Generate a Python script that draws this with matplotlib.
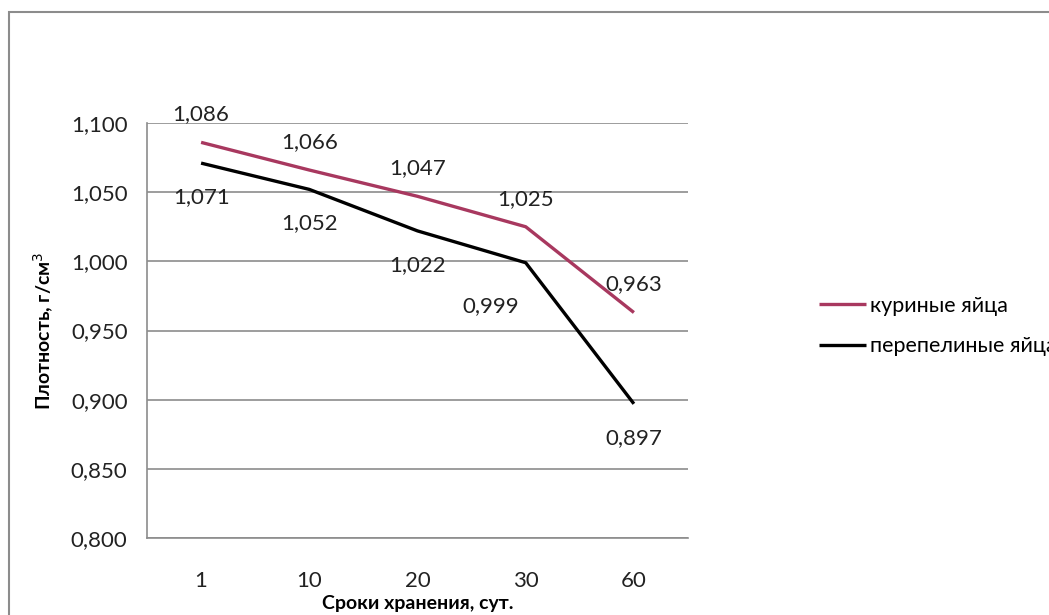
import matplotlib
matplotlib.use("Agg")
import matplotlib.pyplot as plt
from matplotlib.patches import Rectangle

categories = ["1", "10", "20", "30", "60"]
chicken = [1.086, 1.066, 1.047, 1.025, 0.963]
quail = [1.071, 1.052, 1.022, 0.999, 0.897]
chicken_labels = ["1,086", "1,066", "1,047", "1,025", "0,963"]
quail_labels = ["1,071", "1,052", "1,022", "0,999", "0,897"]
yticks = [0.800, 0.850, 0.900, 0.950, 1.000, 1.050, 1.100]
ytick_labels = ["0,800", "0,850", "0,900", "0,950", "1,000", "1,050", "1,100"]

plt.rcParams['font.family'] = ['Lato', 'DejaVu Sans']

W, H = 1049, 615
fig = plt.figure(figsize=(W / 100, H / 100), dpi=100)
fig.patches.append(Rectangle((9 / W, -0.1), 1.2, 1.1 - 12 / H, transform=fig.transFigure,
                             fill=False, edgecolor='#8c8c8c', linewidth=1.5))

ax = fig.add_axes([147 / W, 1 - 538 / H, (688 - 147) / W, (538 - 123) / H])
x = list(range(len(categories)))
c_col = '#A8385F'
ax.plot(x, chicken, color=c_col, linewidth=2.4, label='куриные яйца', solid_capstyle='butt')
ax.plot(x, quail, color='black', linewidth=2.4, label='перепелиные яйца', solid_capstyle='butt')

ax.set_xlim(-0.5, 4.5)
ax.set_ylim(0.800, 1.100)
ax.set_yticks(yticks)
ax.set_yticklabels(ytick_labels)
ax.set_xticks(x)
ax.set_xticklabels(categories)
ax.yaxis.grid(True, color='#8c8c8c', linewidth=1.2)
ax.set_axisbelow(True)
for s in ['top', 'right']:
    ax.spines[s].set_visible(False)
for s in ['left', 'bottom']:
    ax.spines[s].set_color('#8c8c8c')
    ax.spines[s].set_linewidth(1.2)
ax.tick_params(axis='both', length=0, labelsize=16, colors='#222222')
ax.tick_params(axis='x', pad=24)
ax.tick_params(axis='y', pad=14)

for i, (v, t) in enumerate(zip(chicken, chicken_labels)):
    ax.annotate(t, (i, v), xytext=(0, 28), textcoords='offset pixels',
                ha='center', va='center', fontsize=16, color='#222222')
for i, (v, t) in enumerate(zip(quail, quail_labels)):
    dx, dy = (-35, -43) if i == 3 else (0, -34)
    ax.annotate(t, (i, v), xytext=(dx, dy), textcoords='offset pixels',
                ha='center', va='center', fontsize=16, color='#222222')

ax.set_ylabel('Плотность, г/см$^3$', fontsize=14, fontweight='bold')
ax.yaxis.set_label_coords((56 - 147) / (688 - 147), 0.5)
ax.set_xlabel('Сроки хранения, сут.', fontsize=14, fontweight='bold')
ax.xaxis.set_label_coords(0.5, (538 - 603) / (538 - 123))
ax.xaxis.label.set_va('center')

leg = fig.legend(loc='upper left', bbox_to_anchor=(810 / W, 1 - 287 / H), frameon=False,
                 fontsize=15.5, handlelength=2.2, handletextpad=0.2, labelspacing=0.95,
                 borderaxespad=0)

fig.savefig('out.png', dpi=100, facecolor='white')
